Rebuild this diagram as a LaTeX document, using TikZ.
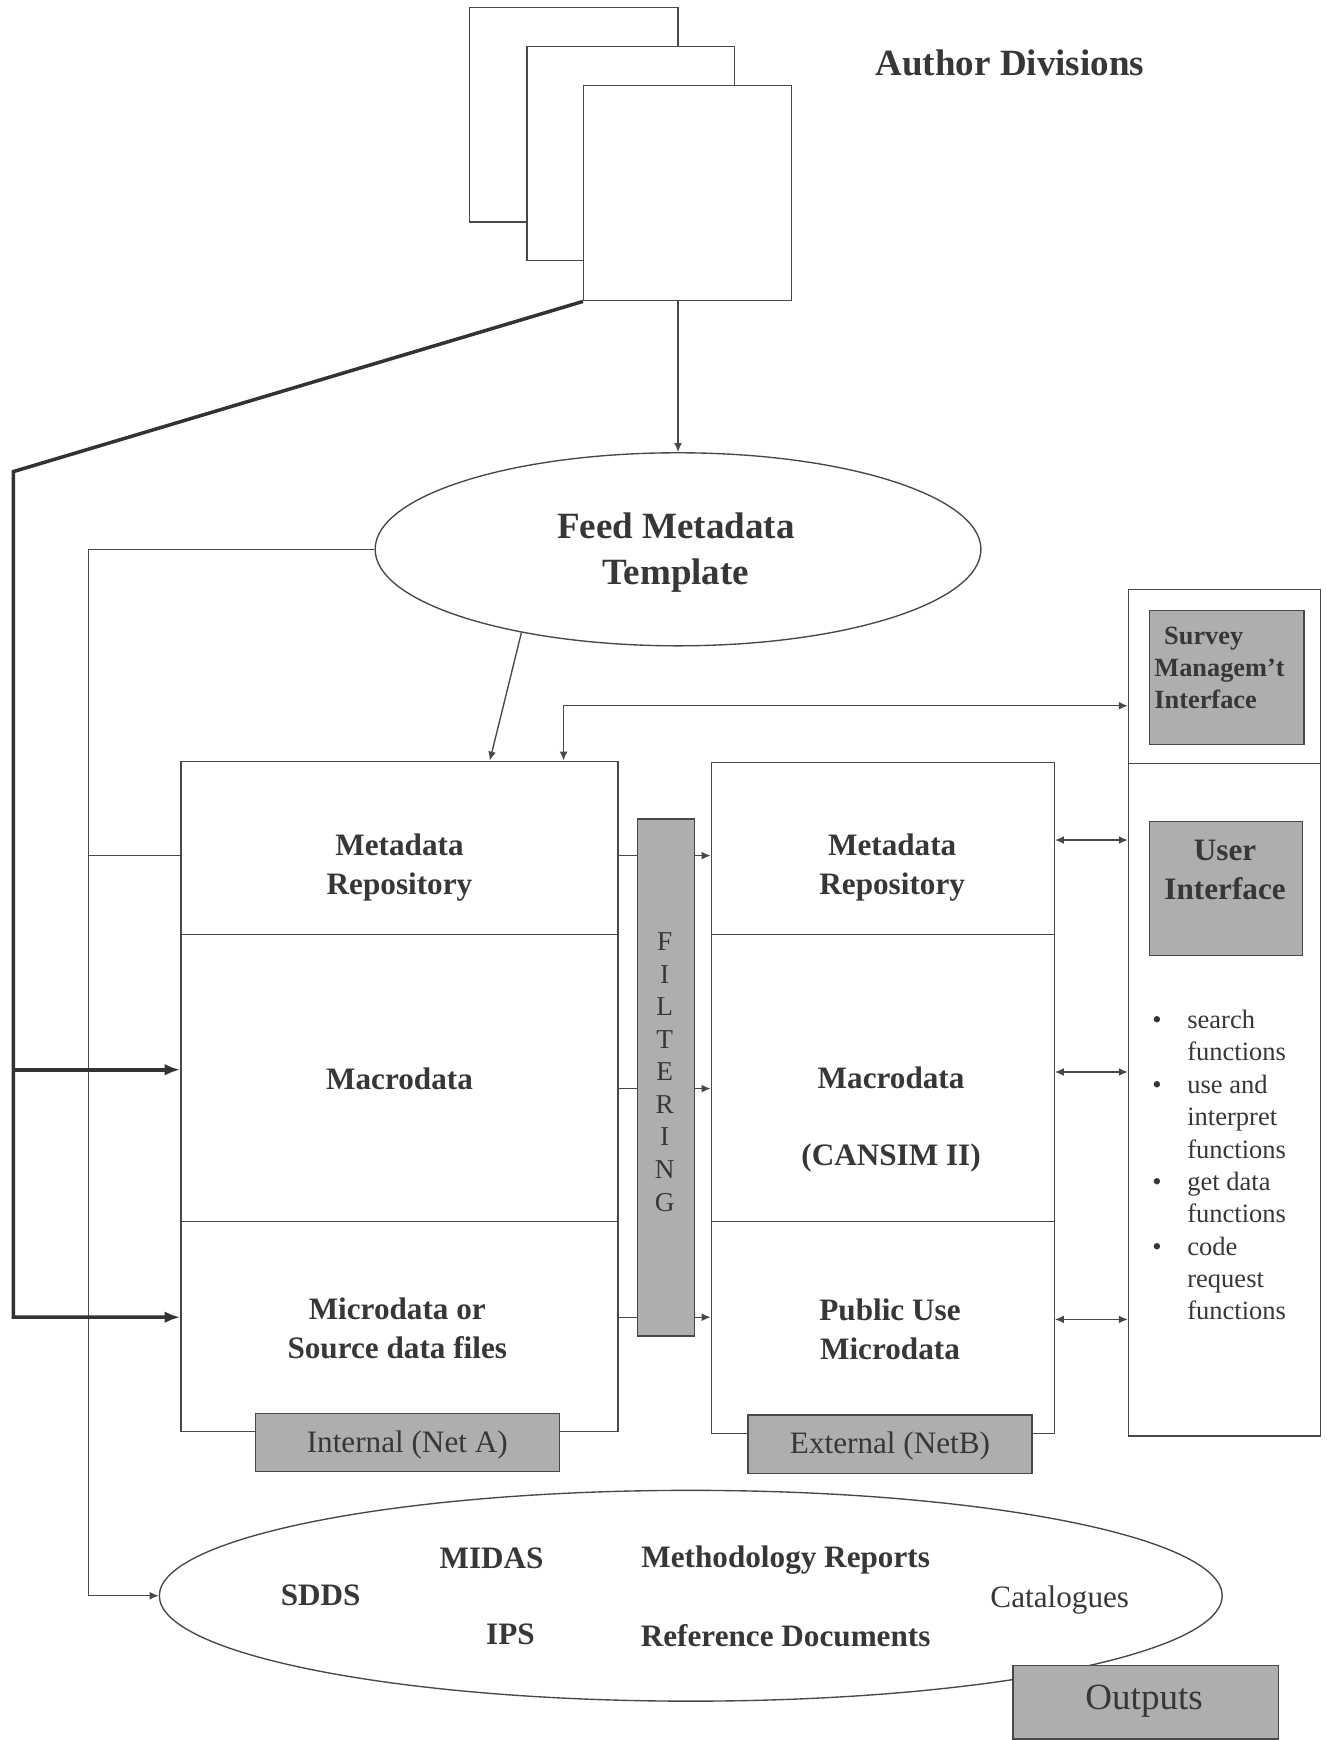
\documentclass[tikz,border=0pt]{standalone}
\usepackage{fontspec}
\setmainfont{Liberation Serif}
\usetikzlibrary{arrows.meta,fit,shapes.geometric}

\definecolor{inkgrey}{RGB}{55,55,55}
\definecolor{linegrey}{RGB}{72,72,72}
\definecolor{panelgrey}{RGB}{174,174,174}

\begin{document}
\begin{tikzpicture}[x=0.02cm, y=-0.02cm,
    every node/.style={text=inkgrey},
    plainbox/.style={draw=linegrey, line width=0.7pt, inner sep=0pt, fill=white},
    greybox/.style={draw=linegrey, line width=0.7pt, inner sep=0pt, fill=panelgrey},
    wire/.style={draw=linegrey, line width=0.7pt},
    heavy/.style={draw=black!80, line width=1.8pt},
    headed/.style={-{Latex[length=4.6pt,width=4pt]}},
    twohead/.style={{Latex[length=4.6pt,width=4pt]}-{Latex[length=4.6pt,width=4pt]}},
    fathead/.style={-{Latex[length=8pt,width=6pt]}},
    bigtxt/.style={font=\fontsize{19}{24}\selectfont\bfseries, align=center},
    boldtxt/.style={font=\fontsize{16}{20}\selectfont\bfseries, align=center},
    plaintxt/.style={font=\fontsize{16}{20}\selectfont, align=center},
    listtxt/.style={font=\fontsize{13.6}{16.6}\selectfont, align=left, inner sep=0pt}
]
\useasboundingbox (0,0) rectangle (1195,1568);

% row levels of the connectors
\coordinate (lvlmeta) at (0,771);
\coordinate (lvlmacro) at (0,964);
\coordinate (lvlfilt) at (0,981);
\coordinate (lvlmicro) at (0,1187);
\coordinate (uimeta) at (0,757);
\coordinate (uimacro) at (0,966);
\coordinate (uimicro) at (0,1189);
\coordinate (smilevel) at (0,636);
\coordinate (trunktop) at (80,0);
\coordinate (kink) at (12,425);

% author divisions
\node[plainbox, fit={(423,7)(611,200)}] (div1) {};
\node[plainbox, fit={(475,42)(662,235)}] (div2) {};
\node[plainbox, fit={(526,77)(713,271)}] (div3) {};
\node[bigtxt] (authors) at (910,57) {Author Divisions};

% feed template
\node[plainbox, ellipse, minimum width=10.92cm, minimum height=3.48cm] (feed) at (611,495) {};
\node[bigtxt] (feedtxt) at (609,498) {Feed Metadata\\Template};

% internal side
\node[plainbox, fit={(163,686)(557,842)}] (inmeta) {};
\node[plainbox, fit={(163,842)(557,1101)}] (inmacro) {};
\node[plainbox, fit={(163,1101)(557,1290)}] (inmicro) {};
\node[boldtxt] (inmetatxt) at (360,782) {Metadata\\Repository};
\node[boldtxt] (inmacrotxt) at (360,972) {Macrodata};
\node[boldtxt] (inmicrotxt) at (358,1197) {Microdata or\\Source data files};
\node[greybox, fit={(230,1274)(504,1326)}] (netA) {};
\node[plaintxt] (netAtxt) at (367,1302) {Internal (Net A)};

% filtering
\node[greybox, fit={(574.5,738)(626,1204)}] (filter) {};
\node[font=\fontsize{14}{16.7}\selectfont, align=center] (filtertxt) at (599,966) {F\\I\\L\\T\\E\\R\\I\\N\\G};

% external side
\node[plainbox, fit={(641,687)(950,842)}] (exmeta) {};
\node[plainbox, fit={(641,842)(950,1101)}] (exmacro) {};
\node[plainbox, fit={(641,1101)(950,1292)}] (exmicro) {};
\node[boldtxt] (exmetatxt) at (804,782) {Metadata\\Repository};
\node[boldtxt] (exmacrotxt) at (803,1009) {Macrodata\\[19.7pt](CANSIM II)};
\node[boldtxt] (exmicrotxt) at (802,1198) {Public Use\\Microdata};
\node[greybox, fit={(674,1275)(930,1328)}] (netB) {};
\node[plaintxt] (netBtxt) at (802,1303) {External (NetB)};

% interfaces
\node[plainbox, fit={(1017,531)(1190,688)}] (survcol) {};
\node[plainbox, fit={(1017,688)(1190,1294)}] (usercol) {};
\node[greybox, fit={(1036,550)(1175,671)}] (survey) {};
\node[listtxt, font=\fontsize{13.5}{16.4}\selectfont\bfseries, anchor=west] (surveytxt) at (1040,602) {\hspace*{5pt}Survey\\Managem't\\Interface};
\node[greybox, fit={(1036,740)(1174,861)}] (user) {};
\node[boldtxt] (usertxt) at (1104,784) {User\\Interface};
\node[listtxt, anchor=west] (uilist) at (1038,1050) {%
  \makebox[18pt][l]{\textbullet}search\\\hspace*{18pt}functions\\
  \makebox[18pt][l]{\textbullet}use and\\\hspace*{18pt}interpret\\\hspace*{18pt}functions\\
  \makebox[18pt][l]{\textbullet}get data\\\hspace*{18pt}functions\\
  \makebox[18pt][l]{\textbullet}code\\\hspace*{18pt}request\\\hspace*{18pt}functions};

% outputs
\node[plainbox, ellipse, minimum width=19.16cm, minimum height=3.8cm] (out) at (622.5,1438) {};
\node[boldtxt] (midas) at (443,1404) {MIDAS};
\node[boldtxt] (sdds) at (289,1438) {SDDS};
\node[boldtxt] (ips) at (460,1473) {IPS};
\node[boldtxt] (method) at (708,1406) {Methodology Reports};
\node[boldtxt] (refdocs) at (708,1474) {Reference Documents};
\node[plaintxt] (catal) at (955,1442) {Catalogues};
\node[greybox, fit={(913,1501)(1152,1567)}] (outbox) {};
\node[font=\fontsize{19}{23}\selectfont] (outboxtxt) at (1031,1533) {Outputs};

% connectors
\draw[wire, headed] (feed.north |- div3.south) -- (feed.north);
\draw[wire, headed] (feed.208) -- (inmeta.44);
\draw[wire, twohead] (inmeta.28) -- (inmeta.28 |- smilevel) -- (survcol.west |- smilevel);
\draw[wire, headed] (feed.west) -- (feed.west -| trunktop) -- (trunktop |- out.west) -- (out.west);
\draw[wire] (trunktop |- lvlmeta) -- (inmeta.west |- lvlmeta);

\draw[heavy, fathead] (div3.south west) -- (kink) -- (kink |- lvlmicro) -- (inmicro.west |- lvlmicro);
\draw[heavy, fathead] (kink |- lvlmacro) -- (inmacro.west |- lvlmacro);

\draw[wire] (inmeta.east |- lvlmeta) -- (filter.west |- lvlmeta);
\draw[wire] (inmacro.east |- lvlfilt) -- (filter.west |- lvlfilt);
\draw[wire] (inmicro.east |- lvlmicro) -- (filter.west |- lvlmicro);
\draw[wire, headed] (filter.east |- lvlmeta) -- (exmeta.west |- lvlmeta);
\draw[wire, headed] (filter.east |- lvlfilt) -- (exmacro.west |- lvlfilt);
\draw[wire, headed] (filter.east |- lvlmicro) -- (exmicro.west |- lvlmicro);

\draw[wire, twohead] (exmeta.east |- uimeta) -- (usercol.west |- uimeta);
\draw[wire, twohead] (exmacro.east |- uimacro) -- (usercol.west |- uimacro);
\draw[wire, twohead] (exmicro.east |- uimicro) -- (usercol.west |- uimicro);
\end{tikzpicture}
\end{document}
